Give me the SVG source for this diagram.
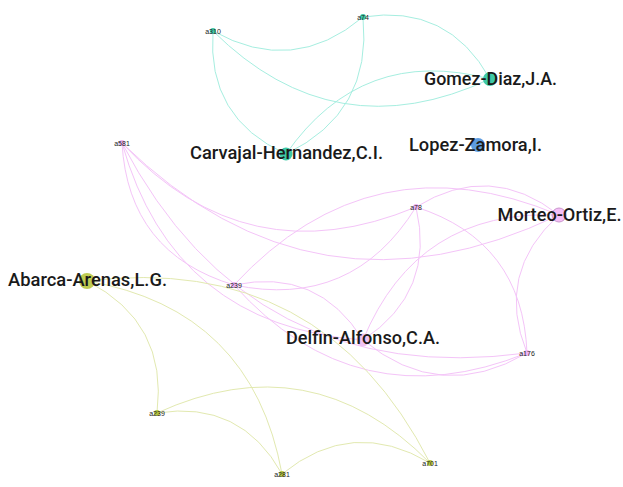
<svg xmlns="http://www.w3.org/2000/svg" width="623" height="487" viewBox="0 0 623 487">
  <style>
    .e { fill: none; stroke-width: 1; }
    .teal { stroke: #a6eee0; }
    .pink { stroke: #f4c4f8; }
    .olive { stroke: #e2e9b0; }
    .big { font-family: Roboto, "Liberation Sans", Arial, sans-serif; font-weight: 500; font-size: 17.5px; fill: #1a1a1a; text-anchor: middle; }
    .small { font-family: "Liberation Sans", Arial, sans-serif; font-size: 7px; fill: #222; text-anchor: middle; }
  </style>
  <rect width="623" height="487" fill="#ffffff"/>

  <g id="edges">
    <!-- teal community -->
    <path class="e teal" d="M213,31 Q293,76 363,17"/>
    <path class="e teal" d="M213,31 Q206.5,118 286,154"/>
    <path class="e teal" d="M213,31 Q334.7,151.6 490,79"/>
    <path class="e teal" d="M363,17 Q372.5,112.5 286,154"/>
    <path class="e teal" d="M363,17 Q448,3.5 490,79"/>
    <path class="e teal" d="M286,154 Q362,45 490,79"/>

    <!-- pink community -->
    <path class="e pink" d="M122,143 Q246.6,277.6 416,207"/>
    <path class="e pink" d="M122,143 Q315.3,331.9 559,215"/>
    <path class="e pink" d="M122,143 Q128.3,253.2 234,285"/>
    <path class="e pink" d="M122,143 Q173.5,325.9 363,340"/>
    <path class="e pink" d="M122,143 Q251,389.8 527,353"/>
    <path class="e pink" d="M416,207 Q490.3,161 559,215"/>
    <path class="e pink" d="M234,285 Q352.3,309.7 416,207"/>
    <path class="e pink" d="M416,207 Q436,292 363,340"/>
    <path class="e pink" d="M416,207 Q522.6,241.1 527,353"/>
    <path class="e pink" d="M234,285 Q372,136.3 559,215"/>
    <path class="e pink" d="M559,215 Q417.2,208.9 363,340"/>
    <path class="e pink" d="M559,215 Q494.7,272.8 527,353"/>
    <path class="e pink" d="M234,285 Q317.8,267.3 363,340"/>
    <path class="e pink" d="M234,285 Q356.7,421.6 527,353"/>
    <path class="e pink" d="M363,340 Q440.4,403.9 527,353"/>

    <!-- olive community -->
    <path class="e olive" d="M87,281 Q322.2,252 430,463"/>
    <path class="e olive" d="M87,281 Q252,309.3 282,474"/>
    <path class="e olive" d="M87,281 Q168.2,322.5 157,413"/>
    <path class="e olive" d="M157,413 Q240.9,399.7 282,474"/>
    <path class="e olive" d="M157,413 Q311,342.5 430,463"/>
    <path class="e olive" d="M282,474 Q352.2,416.7 430,463"/>
  </g>

  <!-- teal community nodes -->
  <g id="a310"><circle cx="213" cy="31" r="3" fill="#3ec9a7"/><text class="small" x="213" y="33.5">a310</text></g>
  <g id="a74"><circle cx="363" cy="17" r="3" fill="#3ec9a7"/><text class="small" x="363" y="19.5">a74</text></g>
  <g id="gomez-diaz"><circle cx="490" cy="79" r="7" fill="#3ec9a7"/><text class="big" x="490.5" y="85" textLength="133" lengthAdjust="spacingAndGlyphs">Gomez-Diaz,J.A.</text></g>
  <g id="carvajal-hernandez"><circle cx="286" cy="154" r="6.5" fill="#3ec9a7"/><text class="big" x="286.5" y="158.5" textLength="193" lengthAdjust="spacingAndGlyphs">Carvajal-Hernandez,C.I.</text></g>

  <!-- isolated node -->
  <g id="lopez-zamora"><circle cx="478" cy="145" r="7" fill="#5e9ce0"/><text class="big" x="475.5" y="150.5" textLength="133" lengthAdjust="spacingAndGlyphs">Lopez-Zamora,I.</text></g>

  <!-- pink community nodes -->
  <g id="a581"><circle cx="122" cy="143" r="3" fill="#eeb2f2"/><text class="small" x="122" y="145.5">a581</text></g>
  <g id="a78"><circle cx="416" cy="207" r="3" fill="#eeb2f2"/><text class="small" x="416" y="209.5">a78</text></g>
  <g id="morteo-ortiz"><circle cx="559" cy="215" r="7" fill="#f4bef6" stroke="#c996cd" stroke-width="1"/><text class="big" x="559.5" y="220.5" textLength="124" lengthAdjust="spacingAndGlyphs">Morteo-Ortiz,E.</text></g>
  <g id="a239-p"><circle cx="234" cy="285" r="3" fill="#eeb2f2"/><text class="small" x="234" y="287.5">a239</text></g>
  <g id="delfin-alfonso"><circle cx="363" cy="340" r="6.5" fill="#f1c3f3"/><text class="big" x="363" y="343.5" textLength="154" lengthAdjust="spacingAndGlyphs">Delfin-Alfonso,C.A.</text></g>
  <g id="a176"><circle cx="527" cy="353" r="3" fill="#eeb2f2"/><text class="small" x="527" y="355.5">a176</text></g>

  <!-- olive community nodes -->
  <g id="abarca-arenas"><circle cx="87" cy="281" r="8" fill="#bfcc52"/><text class="big" x="87.5" y="285.5" textLength="159" lengthAdjust="spacingAndGlyphs">Abarca-Arenas,L.G.</text></g>
  <g id="a239-g"><circle cx="157" cy="413" r="3" fill="#b6c63e"/><text class="small" x="157" y="415.5">a239</text></g>
  <g id="a281"><circle cx="282" cy="474" r="3" fill="#b6c63e"/><text class="small" x="282" y="476.5">a281</text></g>
  <g id="a701"><circle cx="430" cy="463" r="3" fill="#b6c63e"/><text class="small" x="430" y="465.5">a701</text></g>
</svg>
